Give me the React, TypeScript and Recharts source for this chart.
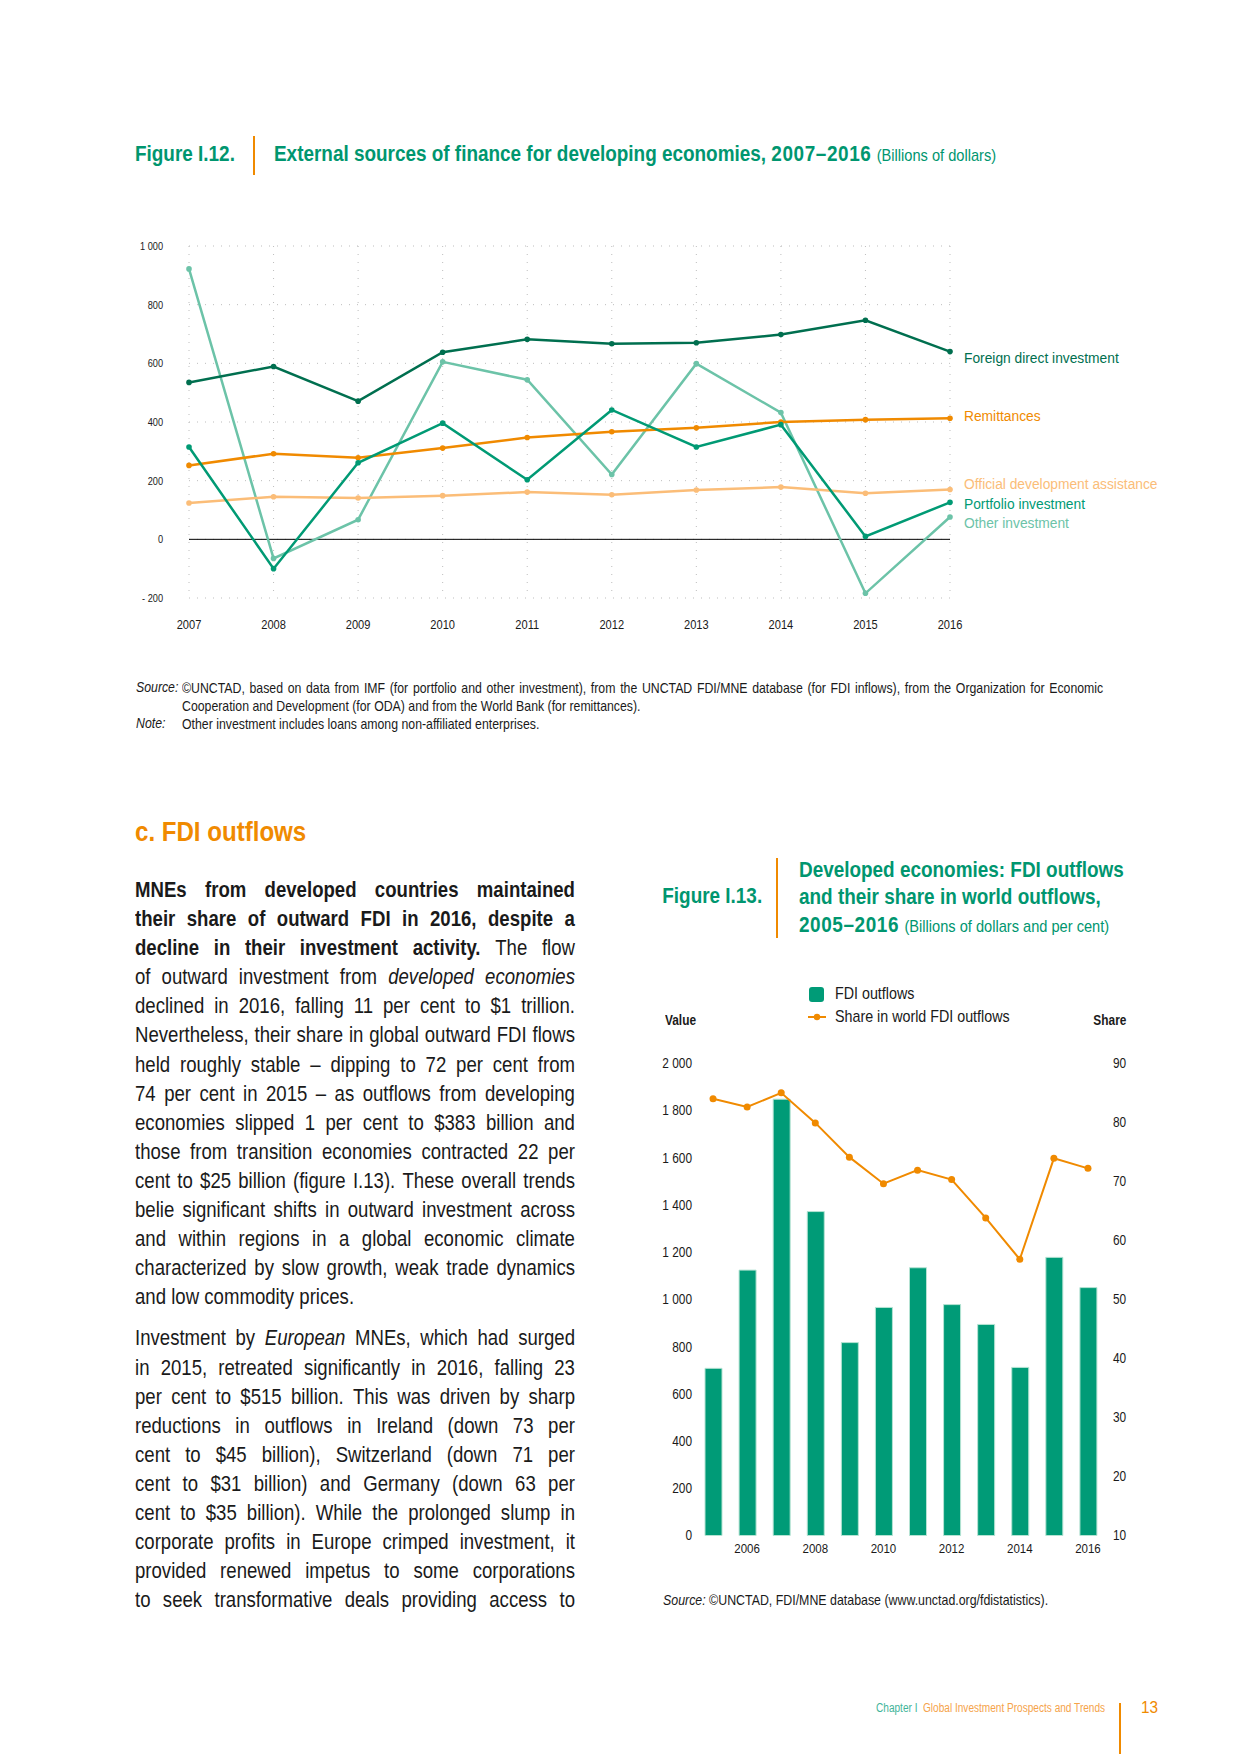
import React from 'react';
import {
  LineChart, Line, XAxis, YAxis, CartesianGrid, ReferenceLine,
  ComposedChart, Bar,
} from 'recharts';

// Figure I.12 data (billions of dollars)
const years1 = ['2007', '2008', '2009', '2010', '2011', '2012', '2013', '2014', '2015', '2016'];
const fdi = [535, 589, 471, 638, 682, 667, 670, 698, 747, 640];
const remittances = [252, 292, 278, 311, 347, 367, 380, 400, 408, 413];
const oda = [124, 145, 141, 149, 161, 152, 168, 178, 157, 170];
const portfolio = [315, -100, 261, 396, 203, 441, 315, 391, 10, 126];
const other = [922, -65, 67, 605, 544, 221, 599, 432, -184, 76];
const ticks1 = [-200, 0, 200, 400, 600, 800, 1000];

// Figure I.13 data
const years2 = ['2005', '2006', '2007', '2008', '2009', '2010', '2011', '2012', '2013', '2014', '2015', '2016'];
const outflows = [708, 1124, 1848, 1372, 817, 966, 1134, 978, 894, 712, 1178, 1050];
const share = [84.0, 82.6, 85.0, 79.9, 74.1, 69.6, 71.9, 70.3, 63.8, 56.8, 73.9, 72.2];
const ticksValue = [0, 200, 400, 600, 800, 1000, 1200, 1400, 1600, 1800, 2000];
const ticksShare = [10, 20, 30, 40, 50, 60, 70, 80, 90];

const data1 = years1.map((y, i) => ({
  year: y, fdi: fdi[i], remittances: remittances[i], oda: oda[i],
  portfolio: portfolio[i], other: other[i],
}));
const data2 = years2.map((y, i) => ({ year: y, outflows: outflows[i], share: share[i] }));

// no condensed face installed, so Arial-metric text is squeezed horizontally
const FONT = '"Liberation Sans", Arial, sans-serif';
const SQ = 0.86;
const TEAL = '#00966f';
const ORANGE = '#f08a00';

const C_FDI = '#006f4f';
const C_REM = '#f08a00';
const C_ODA = '#fbbd78';
const C_PORT = '#009a74';
const C_OTHER = '#6cc3a8';

const fmtNum = (v: number) => {
  const s = String(Math.abs(v)).replace(/\B(?=(\d{3})+(?!\d))/g, ' ');
  return v < 0 ? '- ' + s : s;
};

// svg tick with squeezed glyphs
const condTick = (size: number, anchor: string, dy: string, fmt: (v: any, i: number) => string) =>
  (props: any) => {
    const { x, y, payload, index } = props;
    const label = fmt(payload.value, index);
    if (!label) return <g />;
    return (
      <text transform={`translate(${x},${y}) scale(${SQ},1)`} textAnchor={anchor} dy={dy}
        fontSize={size} fontFamily={FONT} fill="#1a1a1a">{label}</text>
    );
  };

const makeDot = (color: string, label: string, dy: number) => (props: any) => {
  const { cx, cy, index } = props;
  return (
    <g key={`d-${label}-${index}`}>
      <circle cx={cx} cy={cy} r={2.8} fill={color} />
      {index === years1.length - 1 && (
        <text transform={`translate(${cx + 14},${cy + dy}) scale(0.89,1)`} dy="0.36em" fill={color}
          fontSize={15.5} fontFamily={FONT}>{label}</text>
      )}
    </g>
  );
};

const Line1 = () => (
  <LineChart width={1140} height={418} data={data1}
    margin={{ top: 26, right: 290, bottom: 10, left: 29 }}>
    <CartesianGrid strokeDasharray="1 7" stroke="#bdbdbd" />
    <XAxis dataKey="year" axisLine={false} tickLine={false} tickSize={0} tickMargin={22}
      height={30} interval={0} padding={{ left: 0, right: 0 }}
      tick={condTick(12.9, 'middle', '0.71em', (v) => String(v))} />
    <YAxis domain={[-200, 1000]} ticks={ticks1} axisLine={false} tickLine={false}
      tickSize={0} tickMargin={26} width={60} interval={0}
      tick={condTick(10.7, 'end', '0.36em', (v) => fmtNum(v))} />
    <ReferenceLine y={0} stroke="#000" strokeWidth={1} />
    <Line dataKey="other" stroke={C_OTHER} strokeWidth={2.5} isAnimationActive={false}
      dot={makeDot(C_OTHER, 'Other investment', 5)} activeDot={false} />
    <Line dataKey="oda" stroke={C_ODA} strokeWidth={2.5} isAnimationActive={false}
      dot={makeDot(C_ODA, 'Official development assistance', -6)} activeDot={false} />
    <Line dataKey="remittances" stroke={C_REM} strokeWidth={2.5} isAnimationActive={false}
      dot={makeDot(C_REM, 'Remittances', -3)} activeDot={false} />
    <Line dataKey="portfolio" stroke={C_PORT} strokeWidth={2.5} isAnimationActive={false}
      dot={makeDot(C_PORT, 'Portfolio investment', 1)} activeDot={false} />
    <Line dataKey="fdi" stroke={C_FDI} strokeWidth={2.5} isAnimationActive={false}
      dot={makeDot(C_FDI, 'Foreign direct investment', 6)} activeDot={false} />
  </LineChart>
);

const Combo2 = () => (
  <ComposedChart width={505} height={530} data={data2}
    margin={{ top: 23.3, right: 0, bottom: 4.5, left: 0 }}>
    <XAxis dataKey="year" axisLine={false} tickLine={false} tickSize={0} tickMargin={8}
      height={30} interval={0}
      tick={condTick(13.4, 'middle', '0.71em', (v, i) => (i % 2 === 1 ? String(v) : ''))} />
    <YAxis yAxisId="v" domain={[0, 2000]} ticks={ticksValue} axisLine={false} tickLine={false}
      tickSize={0} tickMargin={4} width={56} interval={0}
      tick={condTick(13.8, 'end', '0.36em', (v) => fmtNum(v))} />
    <YAxis yAxisId="s" orientation="right" domain={[10, 90]} ticks={ticksShare} axisLine={false}
      tickLine={false} tickSize={0} tickMargin={8} width={40} interval={0}
      tick={condTick(13.8, 'start', '0.36em', (v) => String(v))} />
    <Bar yAxisId="v" dataKey="outflows" fill="#009b77" stroke="#b5e3d3" strokeWidth={1}
      barSize={17} isAnimationActive={false} />
    <Line yAxisId="s" dataKey="share" stroke={ORANGE} strokeWidth={2} isAnimationActive={false}
      dot={{ r: 3.5, fill: ORANGE, stroke: ORANGE, strokeWidth: 0 }} activeDot={false} />
  </ComposedChart>
);

// absolutely placed text, y is the visual middle of the line
const T = ({ x, y, size, s = SQ, weight = 400, color = '#1a1a1a', right, italic, children }: any) => (
  <div style={{
    position: 'absolute', top: y - size * 0.6, lineHeight: `${size * 1.2}px`, fontSize: size,
    fontWeight: weight, color, fontStyle: italic ? 'italic' : 'normal', whiteSpace: 'nowrap',
    ...(right ? { right: 1240 - x } : { left: x }),
    transform: `scaleX(${s})`, transformOrigin: right ? '100% 50%' : '0 50%',
  }}>{children}</div>
);

// line of text: * toggles bold, _ toggles italic
type Seg = { t: string; b: boolean; i: boolean };
const parseLine = (str: string): Seg[][] => {
  const words: Seg[][] = [];
  let cur: Seg[] = [];
  let buf = '';
  let b = false;
  let it = false;
  const flush = () => { if (buf) { cur.push({ t: buf, b, i: it }); buf = ''; } };
  for (const ch of str) {
    if (ch === '*') { flush(); b = !b; }
    else if (ch === '_') { flush(); it = !it; }
    else if (ch === ' ') { flush(); if (cur.length) words.push(cur); cur = []; }
    else buf += ch;
  }
  flush();
  if (cur.length) words.push(cur);
  return words;
};

const Word = ({ segs }: { segs: Seg[] }) => (
  <span>{segs.map((sg, k) => (
    <span key={k} style={{ fontWeight: sg.b ? 700 : 400, fontStyle: sg.i ? 'italic' : 'normal' }}>{sg.t}</span>
  ))}</span>
);

const JLine = ({ text, last }: { text: string; last?: boolean }) => {
  const words = parseLine(text);
  if (last) {
    return (
      <div style={{ whiteSpace: 'nowrap' }}>
        {words.map((w, k) => <React.Fragment key={k}>{k > 0 ? ' ' : ''}<Word segs={w} /></React.Fragment>)}
      </div>
    );
  }
  return (
    <div style={{ display: 'flex', justifyContent: 'space-between', whiteSpace: 'nowrap' }}>
      {words.map((w, k) => <Word key={k} segs={w} />)}
    </div>
  );
};

const para1 = [
  '*MNEs from developed countries maintained*',
  '*their share of outward FDI in 2016, despite a*',
  '*decline in their investment activity.* The flow',
  'of outward investment from _developed economies_',
  'declined in 2016, falling 11 per cent to $1 trillion.',
  'Nevertheless, their share in global outward FDI flows',
  'held roughly stable – dipping to 72 per cent from',
  '74 per cent in 2015 – as outflows from developing',
  'economies slipped 1 per cent to $383 billion and',
  'those from transition economies contracted 22 per',
  'cent to $25 billion (figure I.13). These overall trends',
  'belie significant shifts in outward investment across',
  'and within regions in a global economic climate',
  'characterized by slow growth, weak trade dynamics',
  'and low commodity prices.',
];
const para2 = [
  'Investment by _European_ MNEs, which had surged',
  'in 2015, retreated significantly in 2016, falling 23',
  'per cent to $515 billion. This was driven by sharp',
  'reductions in outflows in Ireland (down 73 per',
  'cent to $45 billion), Switzerland (down 71 per',
  'cent to $31 billion) and Germany (down 63 per',
  'cent to $35 billion). While the prolonged slump in',
  'corporate profits in Europe crimped investment, it',
  'provided renewed impetus to some corporations',
  'to seek transformative deals providing access to',
];

const BODY_S = 0.845;
const yr = { letterSpacing: 0.7 };

export default function App() {
  return (
    <div style={{ position: 'absolute', left: 0, top: 0, width: 1240, height: 1754, background: '#fff', fontFamily: FONT, color: '#1a1a1a', overflow: 'hidden' }}>
      {/* Figure I.12 header */}
      <T x={135} y={154} size={22} weight={700} color={TEAL}>Figure I.12.</T>
      <div style={{ position: 'absolute', left: 253, top: 136, width: 2, height: 39, background: ORANGE }} />
      <T x={274} y={154} size={22} weight={700} color={TEAL}>
        External sources of finance for developing economies, <span style={yr}>2007–2016</span>{' '}
        <span style={{ fontSize: 17, fontWeight: 400 }}>(Billions of dollars)</span>
      </T>

      <div style={{ position: 'absolute', left: 100, top: 220 }}><Line1 /></div>

      {/* source and note */}
      <T x={136} y={688} size={14.3} italic>Source:</T>
      <T x={136} y={724} size={14.3} italic>Note:</T>
      <div style={{ position: 'absolute', left: 182, top: 679, width: (1103.5 - 182) / SQ, fontSize: 14.3, lineHeight: '18px', transform: `scaleX(${SQ})`, transformOrigin: '0 0' }}>
        <JLine text="©UNCTAD, based on data from IMF (for portfolio and other investment), from the UNCTAD FDI/MNE database (for FDI inflows), from the Organization for Economic" />
        <JLine last text="Cooperation and Development (for ODA) and from the World Bank (for remittances)." />
        <JLine last text="Other investment includes loans among non-affiliated enterprises." />
      </div>

      {/* Section c */}
      <T x={135} y={832} size={28} weight={700} color={ORANGE}>c. FDI outflows</T>

      <div style={{ position: 'absolute', left: 135, top: 875, width: 440 / BODY_S, fontSize: 22, lineHeight: '29.1px', transform: `scaleX(${BODY_S})`, transformOrigin: '0 0' }}>
        {para1.map((l, k) => <JLine key={k} text={l} last={k === para1.length - 1} />)}
        <div style={{ height: 12 }} />
        {para2.map((l, k) => <JLine key={k} text={l} />)}
      </div>

      {/* Figure I.13 header */}
      <T x={762} y={896} size={22} weight={700} color={TEAL} right>Figure I.13.</T>
      <div style={{ position: 'absolute', left: 776, top: 858, width: 2, height: 80, background: ORANGE }} />
      <T x={799} y={870} size={22} weight={700} color={TEAL}>Developed economies: FDI outflows</T>
      <T x={799} y={897} size={22} weight={700} color={TEAL}>and their share in world outflows,</T>
      <T x={799} y={925} size={22} weight={700} color={TEAL}>
        <span style={yr}>2005–2016</span> <span style={{ fontSize: 17, fontWeight: 400 }}>(Billions of dollars and per cent)</span>
      </T>

      {/* legend */}
      <div style={{ position: 'absolute', left: 809, top: 987, width: 15, height: 15, background: '#009b77', borderRadius: 3 }} />
      <T x={835} y={994} size={17} s={0.84}>FDI outflows</T>
      <svg style={{ position: 'absolute', left: 808, top: 1012 }} width={18} height={10}>
        <line x1={0} y1={5} x2={18} y2={5} stroke={ORANGE} strokeWidth={2} />
        <circle cx={9} cy={5} r={3.2} fill={ORANGE} />
      </svg>
      <T x={835} y={1016.7} size={17} s={0.84}>Share in world FDI outflows</T>

      <T x={665} y={1021} size={13.8} weight={700}>Value</T>
      <T x={1126} y={1021} size={13.8} weight={700} right>Share</T>

      <div style={{ position: 'absolute', left: 640, top: 1040 }}><Combo2 /></div>

      <T x={663} y={1600.5} size={14.4}>
        <i>Source:</i> ©UNCTAD, FDI/MNE database (www.unctad.org/fdistatistics).
      </T>

      {/* footer */}
      <T x={876} y={1708} size={12} s={0.84} color="#3fb59a">Chapter I</T>
      <T x={923} y={1708} size={12} s={0.84} color="#f5a34b">Global Investment Prospects and Trends</T>
      <div style={{ position: 'absolute', left: 1119, top: 1703, width: 1.5, height: 51, background: ORANGE }} />
      <T x={1141} y={1708} size={17} s={0.9} color={ORANGE}>13</T>
    </div>
  );
}
